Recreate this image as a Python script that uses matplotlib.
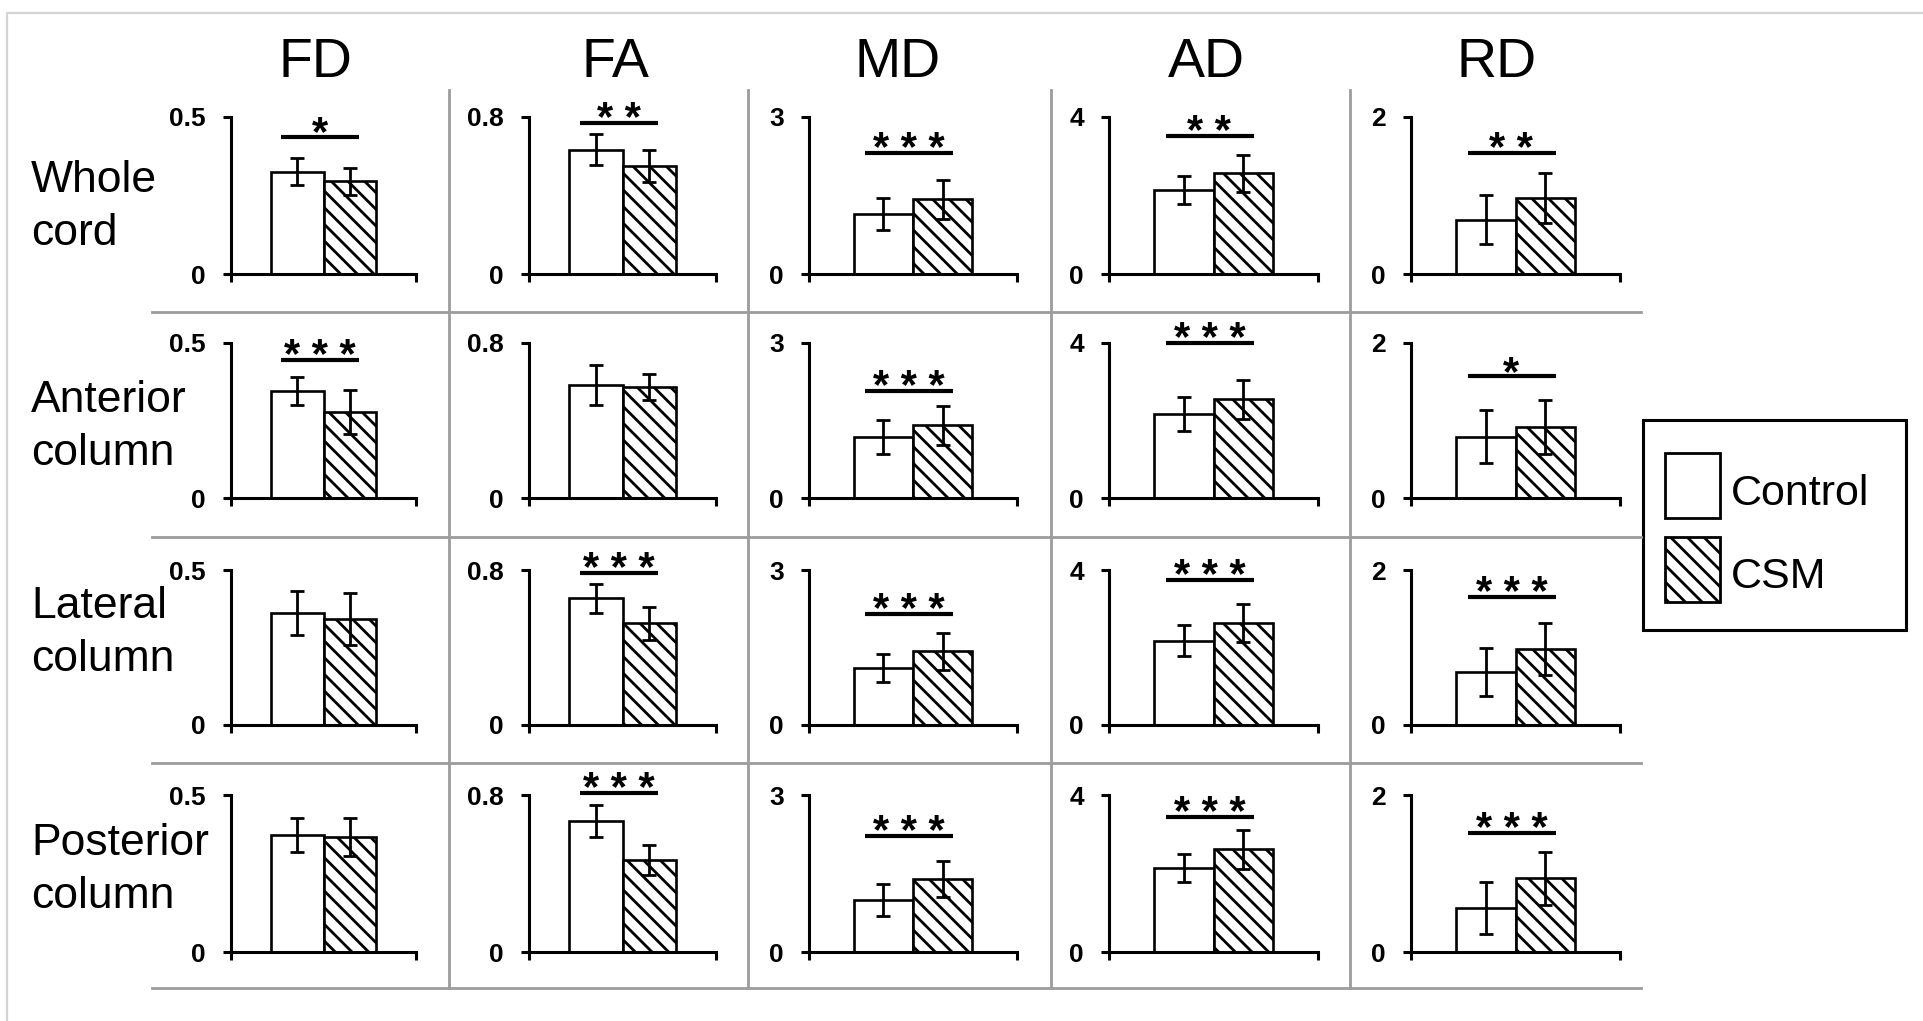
import matplotlib
matplotlib.use("Agg")
import matplotlib.pyplot as plt
from matplotlib.patches import Rectangle

# metrics (columns) and cord regions (rows)
metrics = ["FD", "FA", "MD", "AD", "RD"]
regions = ["Whole\ncord", "Anterior\ncolumn", "Lateral\ncolumn", "Posterior\ncolumn"]
y_max = [0.5, 0.8, 3, 4, 2]
y_top_labels = ["0.5", "0.8", "3", "4", "2"]

# group means / SD, one row per region
ctrl_mean = [[0.325, 0.633, 1.15, 2.14, 0.69],
             [0.345, 0.583, 1.18, 2.17, 0.79],
             [0.361, 0.655, 1.10, 2.17, 0.68],
             [0.373, 0.668, 0.99, 2.14, 0.56]]
ctrl_sd = [[0.043, 0.080, 0.31, 0.35, 0.31],
           [0.045, 0.105, 0.33, 0.43, 0.34],
           [0.070, 0.075, 0.27, 0.40, 0.31],
           [0.055, 0.080, 0.30, 0.36, 0.33]]
csm_mean = [[0.296, 0.551, 1.43, 2.57, 0.97],
            [0.277, 0.573, 1.41, 2.55, 0.92],
            [0.342, 0.526, 1.43, 2.63, 0.98],
            [0.366, 0.469, 1.39, 2.62, 0.94]]
csm_sd = [[0.043, 0.080, 0.37, 0.47, 0.32],
          [0.070, 0.065, 0.38, 0.50, 0.35],
          [0.085, 0.085, 0.36, 0.50, 0.34],
          [0.060, 0.075, 0.34, 0.50, 0.34]]
sig_marks = [["*", "**", "***", "**", "**"],
             ["***", "", "***", "***", "*"],
             ["", "***", "***", "***", "***"],
             ["", "***", "***", "***", "***"]]
sig_level = [[0.436, 0.77, 2.31, 3.52, 1.54],
             [0.445, None, 2.07, 4.00, 1.57],
             [None, 0.785, 2.15, 3.74, 1.65],
             [None, 0.81, 2.22, 3.44, 1.52]]

plt.rcParams["font.family"] = ["Liberation Sans", "DejaVu Sans"]
plt.rcParams["hatch.linewidth"] = 2.0

W, H = 1923, 1021
fig = plt.figure(figsize=(W / 100, H / 100), dpi=100)

# pixel layout of the panel grid
col_x = [(231, 416), (529, 716), (809, 1017), (1109, 1318), (1411, 1620)]
row_y = [(117, 274), (343, 498), (570, 725), (795, 952)]
head_x = [315, 615, 898, 1206, 1497]
label_base = [192, 412, 618, 855]

bg = fig.add_axes([0, 0, 1, 1])
bg.set_xlim(0, W)
bg.set_ylim(H, 0)
bg.axis("off")

# outer frame and table grid
bg.plot([7, 7, W], [H, 13, 13], color="#d4d4d4", lw=1.6)
for y in [312, 537, 763, 988]:
    bg.plot([152, 1641], [y, y], color="#9c9c9c", lw=2)
for x in [449, 748, 1051, 1350]:
    bg.plot([x, x], [90, 988], color="#9c9c9c", lw=2)

for x, name in zip(head_x, metrics):
    bg.text(x, 77, name, ha="center", va="baseline", fontsize=40)
for yb, name in zip(label_base, regions):
    for k, line in enumerate(name.split("\n")):
        bg.text(31, yb + 53 * k, line, ha="left", va="baseline", fontsize=32)

# legend
bg.add_patch(Rectangle((1643, 420), 263, 210, fill=False, ec="black", lw=2.2))
bg.add_patch(Rectangle((1665, 453), 55, 65, fc="white", ec="black", lw=2))
bg.add_patch(Rectangle((1665, 537), 55, 65, fc="white", ec="black", lw=2, hatch="\\\\"))
bg.text(1731, 505, "Control", ha="left", va="baseline", fontsize=31)
bg.text(1731, 588, "CSM", ha="left", va="baseline", fontsize=31)

for r in range(len(regions)):
    for c in range(len(metrics)):
        x0, x1 = col_x[c]
        y1, y0 = row_y[r]
        ax = fig.add_axes([x0 / W, 1 - y0 / H, (x1 - x0) / W, (y0 - y1) / H])
        ax.patch.set_alpha(0)
        ax.bar([-0.5], [ctrl_mean[r][c]], width=1, color="white", edgecolor="black", lw=1.9, zorder=2)
        ax.bar([0.5], [csm_mean[r][c]], width=1, color="white", edgecolor="black", lw=1.9,
               hatch="\\\\", zorder=2)
        ax.errorbar([-0.5, 0.5], [ctrl_mean[r][c], csm_mean[r][c]],
                    yerr=[ctrl_sd[r][c], csm_sd[r][c]], fmt="none", ecolor="black",
                    elinewidth=2, capsize=5, capthick=2, zorder=3)
        ax.set_xlim(-1.75, 1.75)
        ax.set_ylim(0, y_max[c])
        for s in ["top", "right"]:
            ax.spines[s].set_visible(False)
        for s in ["left", "bottom"]:
            ax.spines[s].set_linewidth(2.2)
        ax.set_yticks([0, y_max[c]])
        ax.set_yticklabels(["0", y_top_labels[c]], fontweight="bold")
        ax.tick_params(axis="y", direction="out", length=6, width=2.2, pad=12, labelsize=19)
        ax.set_xticks([-1.75, 1.75])
        ax.set_xticklabels([])
        ax.tick_params(axis="x", direction="out", length=6, width=2.2)

        if sig_marks[r][c]:
            lvl = sig_level[r][c]
            ax.plot([-0.8, 0.67], [lvl, lvl], color="black", lw=3, clip_on=False,
                    solid_capstyle="butt")
            ax.annotate(" ".join(sig_marks[r][c]), xy=(-0.07, lvl), xytext=(0, -6),
                        textcoords="offset points", ha="center", va="baseline",
                        fontsize=30, fontweight="bold", annotation_clip=False)

fig.savefig("out.png", dpi=100)
